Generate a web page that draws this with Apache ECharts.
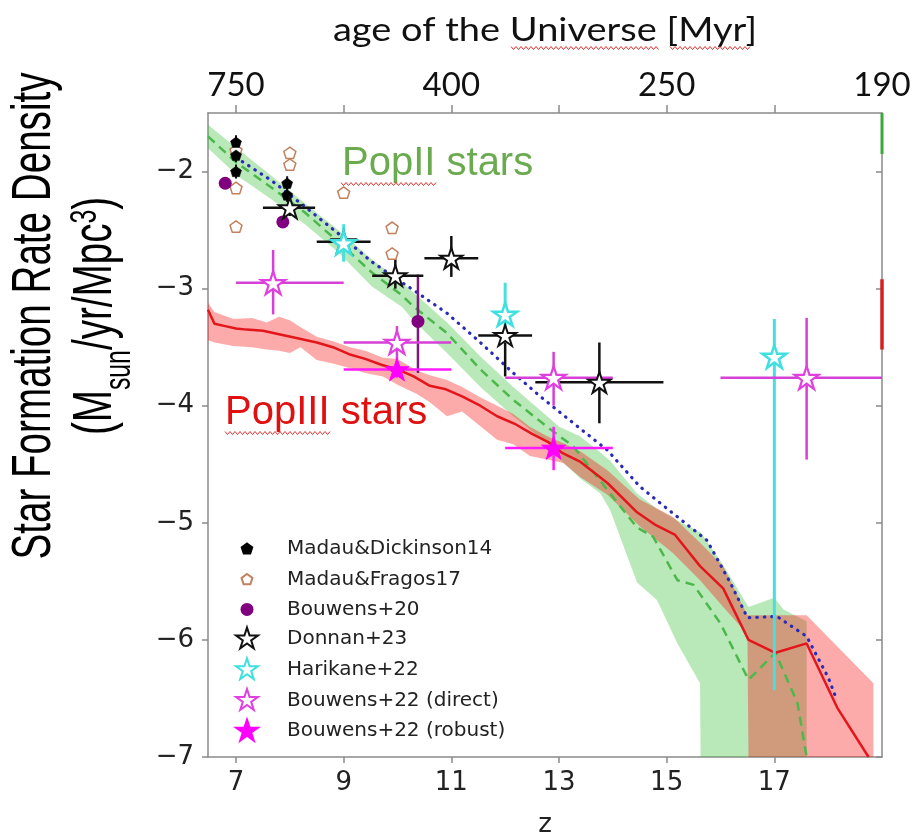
<!DOCTYPE html>
<html><head><meta charset="utf-8">
<script src="https://cdn.jsdelivr.net/npm/echarts@6/dist/echarts.min.js"></script>
<style>html,body{margin:0;padding:0;background:#fff}#c{width:922px;height:835px}</style>
</head><body><div id="c"></div>
<script>
// ---------------- data ----------------
const xTicks = [7, 9, 11, 13, 15, 17];
const yTicks = [-7, -6, -5, -4, -3, -2];
const ageTickZ = [7, 9, 11, 13, 15, 17];
const ageLabelZ = [7, 11, 15, 19];
const ageLabels = ['750', '400', '250', '190'];

// PopIII model (red solid) and band
const popIIIZ = [6.48, 6.6, 6.8, 7.0, 7.2, 7.5, 7.8, 8.1, 8.5, 8.8, 9.1, 9.4, 9.7, 10.0, 10.3, 10.6, 10.9, 11.2, 11.5, 11.85, 12.2, 12.5, 12.8, 13.05, 13.4, 13.9, 14.45, 14.8, 15.15, 15.62, 16.05, 16.52, 17.02, 17.6, 18.17, 18.75];
const popIIISFRD = [-3.18, -3.30, -3.32, -3.34, -3.35, -3.36, -3.39, -3.42, -3.46, -3.50, -3.56, -3.60, -3.65, -3.69, -3.75, -3.83, -3.86, -3.92, -3.99, -4.09, -4.16, -4.24, -4.31, -4.40, -4.48, -4.66, -4.91, -5.02, -5.10, -5.37, -5.56, -6.00, -6.11, -6.03, -6.58, -7.00];
const popIIIBandZ = [6.48, 6.6, 6.95, 7.3, 7.57, 7.8, 8.0, 8.2, 8.5, 8.8, 9.12, 9.4, 9.73, 10.0, 10.36, 10.6, 10.92, 11.2, 11.5, 11.85, 12.15, 12.46, 12.78, 13.08, 13.4, 13.9, 14.5, 15.12, 15.62, 16.05, 16.5, 16.52, 17.6, 18.84];
const popIIIBandUpper = [-3.12, -3.20, -3.26, -3.25, -3.29, -3.24, -3.27, -3.33, -3.41, -3.45, -3.50, -3.53, -3.59, -3.60, -3.70, -3.74, -3.78, -3.84, -3.92, -4.00, -4.07, -4.18, -4.26, -4.32, -4.39, -4.55, -4.80, -4.95, -5.17, -5.37, -5.79, -5.79, -5.79, -6.37];
const popIIIBandLower = [-3.44, -3.46, -3.49, -3.50, -3.52, -3.53, -3.55, -3.50, -3.61, -3.64, -3.68, -3.72, -3.75, -3.82, -3.90, -3.97, -4.09, -4.05, -4.16, -4.29, -4.33, -4.43, -4.46, -4.49, -4.61, -4.76, -5.03, -5.26, -5.49, -5.72, -5.95, -7.0, -7.0, -7.0];

// PopII model (green dashed) and band
const popIIZ = [6.48, 7.0, 7.67, 8.28, 8.9, 9.52, 10.09, 10.29, 10.92, 11.54, 12.15, 12.78, 13.27, 13.9, 14.45, 14.75, 15.2, 15.5, 16.0, 16.52, 17.02, 17.43, 17.6];
const popIISFRD = [-1.70, -1.92, -2.14, -2.35, -2.60, -2.86, -3.06, -3.15, -3.38, -3.69, -3.95, -4.18, -4.35, -4.72, -5.04, -5.12, -5.49, -5.53, -5.86, -6.34, -6.11, -6.54, -7.0];
const popIIBandZ = [6.48, 7.04, 7.67, 8.28, 8.9, 9.52, 10.09, 10.29, 10.92, 11.54, 12.15, 12.78, 13.0, 13.39, 13.77, 13.95, 14.45, 14.82, 15.2, 15.62, 15.63, 16.05, 16.52, 17.0, 17.17, 17.6];
const popIIBandUpper = [-1.60, -1.81, -2.04, -2.27, -2.50, -2.75, -2.95, -3.03, -3.29, -3.58, -3.84, -4.09, -4.18, -4.26, -4.40, -4.47, -4.75, -4.88, -4.98, -5.08, -5.08, -5.36, -5.72, -5.64, -5.74, -5.84];
const popIIBandLower = [-1.80, -2.04, -2.24, -2.45, -2.69, -2.98, -3.16, -3.27, -3.55, -3.84, -4.09, -4.32, -4.45, -4.62, -4.75, -4.89, -5.51, -5.66, -6.03, -6.37, -7.0, -7.0, -7.0, -7.0, -7.0, -7.0];

// total (blue dotted)
const totalZ = [7.0, 7.67, 8.28, 8.9, 9.52, 10.09, 10.29, 10.92, 11.54, 12.15, 12.65, 13.27, 13.9, 14.5, 15.12, 15.75, 16.18, 16.5, 17.05, 17.6, 18.0, 18.15];
const totalSFRD = [-1.88, -2.08, -2.30, -2.53, -2.77, -2.95, -3.01, -3.21, -3.46, -3.72, -3.92, -4.15, -4.38, -4.69, -4.92, -5.15, -5.51, -5.81, -5.80, -5.97, -6.32, -6.50];

// small coloured marks on the right frame
const edgeRedZ = [19.0, 19.0], edgeRedV = [-2.92, -3.52];
const edgeGreenZ = [19.0, 19.0], edgeGreenV = [-1.5, -1.85];

// observations
const mdZ = [7.0, 7.0, 7.0, 7.95, 7.95];
const mdV = [-1.75, -1.86, -2.0, -2.10, -2.20];
const mdLo = [-1.81, -1.92, -2.06, -2.16, -2.26];
const mdHi = [-1.69, -1.80, -1.94, -2.04, -2.14];

const mfZ = [7.0, 7.0, 7.0, 8.0, 8.0, 9.0, 9.9, 9.9];
const mfV = [-1.82, -2.14, -2.47, -1.84, -1.94, -2.18, -2.48, -2.70];

const b20Z = [6.8, 7.87, 10.38];
const b20V = [-2.10, -2.43, -3.28];
const b20Lo = [-2.10, -2.43, -3.72];
const b20Hi = [-2.10, -2.43, -2.88];

const donZ = [8.0, 9.0, 9.96, 11.0, 12.0, 13.75];
const donV = [-2.31, -2.60, -2.89, -2.74, -3.40, -3.80];
const donZLo = [7.5, 8.5, 9.53, 10.5, 11.5, 12.56];
const donZHi = [8.47, 9.5, 10.48, 11.5, 12.5, 14.94];
const donLo = [-2.38, -2.64, -3.0, -2.90, -3.75, -4.15];
const donHi = [-2.24, -2.56, -2.75, -2.55, -3.33, -3.46];

const harZ = [9.0, 12.0, 17.0];
const harV = [-2.61, -3.22, -3.58];
const harLo = [-2.77, -3.46, -6.43];
const harHi = [-2.45, -2.95, -3.26];

const bdZ = [7.69, 9.99, 12.9, 17.6];
const bdV = [-2.95, -3.46, -3.76, -3.76];
const bdZLo = [7.0, 9.0, 12.0, 16.0];
const bdZHi = [9.0, 11.0, 14.0, 20.0];
const bdLo = [-3.22, -3.61, -4.0, -4.46];
const bdHi = [-2.67, -3.32, -3.54, -3.25];

const brZ = [9.99, 12.9];
const brV = [-3.69, -4.36];
const brZLo = [9.0, 12.0];
const brZHi = [11.0, 14.0];
const brLo = [-3.76, -4.55];
const brHi = [-3.62, -4.18];

// ---------------- helpers ----------------
function starD(cx, cy, R, r) {
  let d = '';
  for (let k = 0; k < 10; k++) {
    const a = -Math.PI / 2 + k * Math.PI / 5, rad = k % 2 === 0 ? R : r;
    d += (k === 0 ? 'M' : 'L') + (cx + rad * Math.cos(a)).toFixed(2) + ' ' + (cy + rad * Math.sin(a)).toFixed(2) + ' ';
  }
  return d + 'Z';
}
function pentD(cx, cy, R) {
  let d = '';
  for (let k = 0; k < 5; k++) {
    const a = -Math.PI / 2 + k * 2 * Math.PI / 5;
    d += (k === 0 ? 'M' : 'L') + (cx + R * Math.cos(a)).toFixed(2) + ' ' + (cy + R * Math.sin(a)).toFixed(2) + ' ';
  }
  return d + 'Z';
}
function circD(cx, cy, R) {
  return 'M' + (cx - R) + ' ' + cy + ' A' + R + ' ' + R + ' 0 1 1 ' + (cx + R) + ' ' + cy + ' A' + R + ' ' + R + ' 0 1 1 ' + (cx - R) + ' ' + cy + ' Z';
}
const STAR = 'path://' + starD(50, 50, 50, 19.1);
const PENT = 'path://' + pentD(50, 50, 50);
const pad = d => 'path://M0 0 M100 100 ' + d;

function pairs(xs, ys) { return xs.map((x, i) => [x, ys[i]]); }

function band(name, zs, up, lo, color) {
  return {
    type: 'custom', name: name, silent: true, z: 1, clip: true,
    data: [[zs[0], up[0]]],
    renderItem: function (params, api) {
      const pts = [];
      for (let i = 0; i < zs.length; i++) pts.push(api.coord([zs[i], up[i]]));
      for (let i = zs.length - 1; i >= 0; i--) pts.push(api.coord([zs[i], lo[i]]));
      return { type: 'polygon', shape: { points: pts }, style: { fill: color } };
    }
  };
}
function errbars(name, zs, vs, zLo, zHi, vLo, vHi, color, w) {
  return {
    type: 'custom', name: name, silent: true, z: 5, clip: true,
    data: zs.map((z, i) => [z, vs[i], zLo ? zLo[i] : z, zHi ? zHi[i] : z, vLo[i], vHi[i]]),
    renderItem: function (params, api) {
      const z = api.value(0), v = api.value(1);
      const a = api.coord([api.value(2), v]), b = api.coord([api.value(3), v]);
      const c = api.coord([z, api.value(4)]), d = api.coord([z, api.value(5)]);
      const st = { stroke: color, lineWidth: w };
      const ch = [];
      if (b[0] - a[0] > 0.5) ch.push({ type: 'line', shape: { x1: a[0], y1: a[1], x2: b[0], y2: b[1] }, style: st });
      if (c[1] - d[1] > 0.5) ch.push({ type: 'line', shape: { x1: c[0], y1: c[1], x2: d[0], y2: d[1] }, style: st });
      return { type: 'group', children: ch };
    }
  };
}
function scatter(name, zs, vs, symbol, size, style) {
  return {
    type: 'scatter', name: name, z: 6, symbol: symbol, symbolSize: size, symbolKeepAspect: true,
    data: pairs(zs, vs), itemStyle: Object.assign({ opacity: 1 }, style), emphasis: { disabled: true }
  };
}

const mctx = document.createElement('canvas').getContext('2d');
function textW(t, font) { mctx.font = font; return mctx.measureText(t).width; }

function squiggle(x1, x2, y) {
  const pts = [];
  let k = 0;
  for (let x = x1; x <= x2; x += 2.5, k++) pts.push([x, y + (k % 2 === 0 ? -1.5 : 1.5)]);
  return { type: 'polyline', shape: { points: pts }, style: { stroke: '#e03030', lineWidth: 1, fill: null }, z: 20 };
}

// ---------------- chart ----------------
const chart = echarts.init(document.getElementById('c'), null, { renderer: 'canvas', width: 922, height: 835 });

const axisCol = '#8a8a8a';
const tickFont = { fontFamily: 'DejaVu Sans', fontSize: 26, color: '#222' };
const minus = v => (v < 0 ? '\u2212' : '') + Math.abs(v);

const title1 = 'Star Formation Rate Density';
const t1Scale = 487 / textW(title1, '56px "Liberation Sans"');
const topTitle = 'age of the Universe [Myr]';
const topScale = 424 / textW(topTitle, '32px Lato');

const option = {
  backgroundColor: '#fff',
  animation: false,
  grid: { left: 208, right: 40, top: 113, bottom: 78, containLabel: false, outerBoundsMode: 'none' },
  xAxis: [{
    type: 'value', position: 'bottom', min: 6.48, max: 19.0,
    name: 'z', nameLocation: 'middle', nameGap: 55,
    nameTextStyle: { fontFamily: 'DejaVu Sans', fontSize: 26, color: '#222' },
    axisLine: { show: true, onZero: false, lineStyle: { color: axisCol, width: 1.5 } },
    axisTick: { show: true, inside: false, length: 6, customValues: xTicks, lineStyle: { color: axisCol, width: 1.5 } },
    axisLabel: Object.assign({ customValues: xTicks, margin: 13 }, tickFont),
    splitLine: { show: false }
  }, {
    type: 'value', position: 'top', min: 6.48, max: 19.0,
    axisLine: { show: true, onZero: false, lineStyle: { color: axisCol, width: 1.5 } },
    axisTick: { show: true, inside: false, length: 8, customValues: ageTickZ, lineStyle: { color: axisCol, width: 1.5 } },
    axisLabel: {
      customValues: ageLabelZ, margin: 11, fontFamily: 'Lato', fontSize: 33, color: '#111',
      formatter: v => { const i = ageLabelZ.indexOf(v); return i >= 0 ? ageLabels[i] : ''; }
    },
    splitLine: { show: false }
  }],
  yAxis: [{
    type: 'value', position: 'left', min: -7, max: -1.5,
    axisLine: { show: true, onZero: false, lineStyle: { color: axisCol, width: 1.5 } },
    axisTick: { show: true, inside: false, length: 6, customValues: yTicks, lineStyle: { color: axisCol, width: 1.5 } },
    axisLabel: Object.assign({ customValues: yTicks, margin: 14, formatter: minus }, tickFont),
    splitLine: { show: false }
  }, {
    type: 'value', position: 'right', min: -7, max: -1.5,
    axisLine: { show: true, onZero: false, lineStyle: { color: axisCol, width: 1.5 } },
    axisTick: { show: true, inside: true, length: 6, customValues: yTicks, lineStyle: { color: axisCol, width: 1.5 } },
    axisLabel: { show: false },
    splitLine: { show: false }
  }],
  legend: {
    orient: 'vertical', left: 229, top: 531, padding: 5,
    itemWidth: 70, itemHeight: 24, itemGap: 4.7, selectedMode: false,
    textStyle: { fontFamily: 'DejaVu Sans', fontSize: 20, color: '#222' },
    data: [
      { name: 'Madau&Dickinson14', icon: pad(pentD(50, 50, 23)) },
      { name: 'Madau&Fragos17', icon: pad(pentD(50, 50, 24)) },
      { name: 'Bouwens+20', icon: pad(circD(50, 50, 27)) },
      { name: 'Donnan+23', icon: pad(starD(50, 50, 48, 18.3)) },
      { name: 'Harikane+22', icon: pad(starD(50, 50, 48, 18.3)) },
      { name: 'Bouwens+22 (direct)', icon: pad(starD(50, 50, 48, 18.3)) },
      { name: 'Bouwens+22 (robust)', icon: pad(starD(50, 50, 48, 18.3)) }
    ]
  },
  series: [
    band('PopII band', popIIBandZ, popIIBandUpper, popIIBandLower, 'rgba(60,190,60,0.36)'),
    band('PopIII band', popIIIBandZ, popIIIBandUpper, popIIIBandLower, 'rgba(250,20,20,0.36)'),
    { type: 'line', name: 'PopII', z: 3, symbol: 'none', silent: true, data: pairs(popIIZ, popIISFRD),
      lineStyle: { color: '#4cb84c', width: 2.5, type: [9, 6] } },
    { type: 'line', name: 'PopIII', z: 3, symbol: 'none', silent: true, data: pairs(popIIIZ, popIIISFRD),
      lineStyle: { color: '#e3161b', width: 2.5 } },
    { type: 'line', name: 'total', z: 3, symbol: 'none', silent: true, data: pairs(totalZ, totalSFRD),
      lineStyle: { color: '#2a2ab8', width: 3.2, type: [0.5, 7], cap: 'round' } },
    { type: 'line', name: 'edgeRed', z: 3, symbol: 'none', silent: true, clip: false, data: pairs(edgeRedZ, edgeRedV),
      lineStyle: { color: '#d42020', width: 3.5 } },
    { type: 'line', name: 'edgeGreen', z: 3, symbol: 'none', silent: true, clip: false, data: pairs(edgeGreenZ, edgeGreenV),
      lineStyle: { color: '#3aa83a', width: 3 } },

    errbars('mdErr', mdZ, mdV, null, null, mdLo, mdHi, '#111', 2),
    errbars('b20Err', b20Z, b20V, null, null, b20Lo, b20Hi, '#7a1a7a', 2.5),
    errbars('donErr', donZ, donV, donZLo, donZHi, donLo, donHi, '#111', 2.5),
    errbars('harErr', harZ, harV, null, null, harLo, harHi, '#4adede', 3),
    errbars('bdErr', bdZ, bdV, bdZLo, bdZHi, bdLo, bdHi, '#d640d6', 2.5),
    errbars('brErr', brZ, brV, brZLo, brZHi, brLo, brHi, '#ff1aff', 2.5),

    scatter('Madau&Fragos17', mfZ, mfV, PENT, 12, { color: '#fff', borderColor: '#c2805e', borderWidth: 1.5 }),
    scatter('Madau&Dickinson14', mdZ, mdV, PENT, 11, { color: '#000', borderColor: '#000', borderWidth: 0.5 }),
    scatter('Bouwens+20', b20Z, b20V, 'circle', 13, { color: '#800080' }),
    scatter('Donnan+23', donZ, donV, STAR, 22, { color: '#fff', borderColor: '#111', borderWidth: 2 }),
    scatter('Harikane+22', harZ, harV, STAR, 24, { color: '#fff', borderColor: '#3fe0e0', borderWidth: 2.5 }),
    scatter('Bouwens+22 (direct)', bdZ, bdV, STAR, 24, { color: '#fff', borderColor: '#e040e0', borderWidth: 2.2 }),
    scatter('Bouwens+22 (robust)', brZ, brV, STAR, 24, { color: '#ff00ff', borderColor: '#ff00ff', borderWidth: 1 })
  ],
  graphic: [
    { type: 'text', x: 35, y: 316, rotation: Math.PI / 2, scaleX: t1Scale, z: 20,
      style: { text: title1, fontFamily: 'Liberation Sans', fontSize: 56, fill: '#000', align: 'center', verticalAlign: 'middle', textAlign: 'center', textVerticalAlign: 'middle' } },
    { type: 'text', x: 103, y: 316, rotation: Math.PI / 2, scaleX: t1Scale, z: 20,
      style: { text: '{m|(M}{sub|sun}{m|/yr/Mpc}{sup|3}{m|)}', align: 'center', verticalAlign: 'middle', textAlign: 'center', textVerticalAlign: 'middle',
        rich: {
          m: { fontFamily: 'Liberation Sans', fontSize: 56, lineHeight: 70, verticalAlign: 'top', fill: '#000', color: '#000' },
          sub: { fontFamily: 'Liberation Sans', fontSize: 36, verticalAlign: 'bottom', fill: '#000', color: '#000' },
          sup: { fontFamily: 'Liberation Sans', fontSize: 36, verticalAlign: 'top', fill: '#000', color: '#000' }
        } } },
    { type: 'text', x: 545, y: 31, scaleX: topScale, z: 20,
      style: { text: topTitle, fontFamily: 'Lato', fontSize: 32, fill: '#111', align: 'center', verticalAlign: 'middle', textAlign: 'center', textVerticalAlign: 'middle' } },
    { type: 'text', x: 342, y: 164, z: 20,
      style: { text: 'PopII stars', fontFamily: 'Liberation Sans', fontSize: 40, fill: '#6aab50', align: 'left', verticalAlign: 'middle', textAlign: 'left', textVerticalAlign: 'middle' } },
    { type: 'text', x: 225, y: 413, z: 20,
      style: { text: 'PopIII stars', fontFamily: 'Liberation Sans', fontSize: 40, fill: '#e01010', align: 'left', verticalAlign: 'middle', textAlign: 'left', textVerticalAlign: 'middle' } },
    squiggle(341, 437, 184),
    squiggle(225, 331, 433),
    squiggle(511, 660, 48),
    squiggle(670, 752, 48)
  ]
};
chart.setOption(option);
</script></body></html>
